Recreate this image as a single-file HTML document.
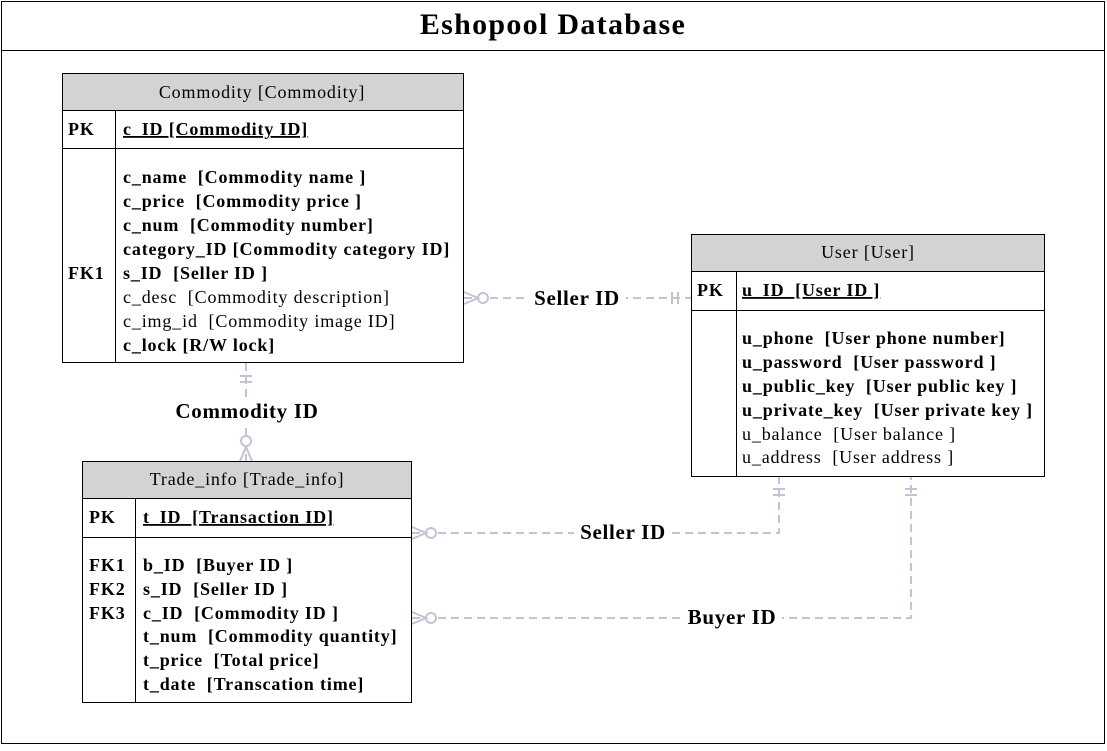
<!DOCTYPE html>
<html><head><style>
body{margin:0;background:#fff}
svg text{font-family:"Liberation Serif",serif;white-space:pre;}
.t{letter-spacing:0.85px}
</style></head><body>
<svg width="1107" height="746" xmlns="http://www.w3.org/2000/svg">
<rect x="1.5" y="1.5" width="1103" height="742" fill="#fff" stroke="#000"/>
<line x1="1" y1="50.5" x2="1105" y2="50.5" stroke="#000"/>
<text x="553" y="34" font-size="30" font-weight="bold" text-anchor="middle" style="letter-spacing:1.3px">Eshopool Database</text>

<g stroke="#c6c2d6" stroke-width="2" fill="none">
 <line x1="464" y1="298" x2="691" y2="298" stroke-dasharray="8,5"/>
 <circle cx="483" cy="298" r="5" fill="#fff"/>
 <path d="M464 292 L478 298 L464 304"/>
 <line x1="672" y1="292" x2="672" y2="304"/><line x1="678" y1="292" x2="678" y2="304"/>
 <line x1="246" y1="363" x2="246" y2="461" stroke-dasharray="8,5"/>
 <line x1="240" y1="376" x2="252" y2="376"/><line x1="240" y1="382" x2="252" y2="382"/>
 <circle cx="246" cy="441" r="5" fill="#fff"/>
 <path d="M240 461 L246 447 L252 461"/>
 <path d="M412 533 L779 533 L779 477" stroke-dasharray="8,5"/>
 <circle cx="431" cy="533" r="5" fill="#fff"/>
 <path d="M412 527 L426 533 L412 539"/>
 <line x1="773" y1="489" x2="785" y2="489"/><line x1="773" y1="495" x2="785" y2="495"/>
 <path d="M412 618 L911 618 L911 477" stroke-dasharray="8,5"/>
 <circle cx="431" cy="618" r="5" fill="#fff"/>
 <path d="M412 612 L426 618 L412 624"/>
 <line x1="905" y1="489" x2="917" y2="489"/><line x1="905" y1="495" x2="917" y2="495"/>
</g>
<g font-size="21" font-weight="bold" text-anchor="middle" style="letter-spacing:0.7px">
 <rect x="528" y="286" width="98" height="24" fill="#fff"/>
 <text x="577" y="305">Seller ID</text>
 <rect x="170" y="400" width="154" height="24" fill="#fff"/>
 <text x="247" y="418">Commodity ID</text>
 <rect x="574" y="521" width="98" height="24" fill="#fff"/>
 <text x="623" y="539">Seller ID</text>
 <rect x="682" y="606" width="100" height="24" fill="#fff"/>
 <text x="732" y="624">Buyer ID</text>
</g>

<g stroke="#000" stroke-width="1">
 <rect x="62.5" y="73.5" width="401" height="37" fill="#d3d3d3"/>
 <rect x="62.5" y="110.5" width="401" height="252" fill="#fff"/>
 <line x1="62" y1="148.5" x2="464" y2="148.5"/>
 <line x1="115.5" y1="110" x2="115.5" y2="363"/>
</g>
<g font-size="18" class="t">
<text x="262" y="98" text-anchor="middle">Commodity [Commodity]</text>
 <text x="68" y="135" font-weight="bold">PK</text>
 <text x="123" y="135" font-weight="bold" text-decoration="underline">c_ID [Commodity ID]</text>
 <text x="68" y="279" font-weight="bold">FK1</text>
 <g font-weight="bold">
 <text x="123" y="183">c_name  [Commodity name ]</text>
 <text x="123" y="207">c_price  [Commodity price ]</text>
 <text x="123" y="231">c_num  [Commodity number]</text>
 <text x="123" y="255">category_ID [Commodity category ID]</text>
 <text x="123" y="279">s_ID  [Seller ID ]</text>
 <text x="123" y="351">c_lock [R/W lock]</text>
 </g>
 <text x="123" y="303">c_desc  [Commodity description]</text>
 <text x="123" y="327">c_img_id  [Commodity image ID]</text>
</g>

<g stroke="#000" stroke-width="1">
 <rect x="691.5" y="234.5" width="353" height="37" fill="#d3d3d3"/>
 <rect x="691.5" y="271.5" width="353" height="205" fill="#fff"/>
 <line x1="691" y1="310.5" x2="1045" y2="310.5"/>
 <line x1="736.5" y1="271" x2="736.5" y2="477"/>
</g>
<g font-size="18" class="t">
<text x="868" y="258" text-anchor="middle">User [User]</text>
 <text x="697" y="296" font-weight="bold">PK</text>
 <text x="742" y="296" font-weight="bold" text-decoration="underline">u_ID  [User ID ]</text>
 <g font-weight="bold">
 <text x="742" y="344">u_phone  [User phone number]</text>
 <text x="742" y="368">u_password  [User password ]</text>
 <text x="742" y="392">u_public_key  [User public key ]</text>
 <text x="742" y="416">u_private_key  [User private key ]</text>
 </g>
 <text x="742" y="440">u_balance  [User balance ]</text>
 <text x="742" y="463">u_address  [User address ]</text>
</g>

<g stroke="#000" stroke-width="1">
 <rect x="82.5" y="461.5" width="329" height="37" fill="#d3d3d3"/>
 <rect x="82.5" y="498.5" width="329" height="204" fill="#fff"/>
 <line x1="82" y1="537.5" x2="412" y2="537.5"/>
 <line x1="135.5" y1="498" x2="135.5" y2="703"/>
</g>
<text x="247" y="485" font-size="18" text-anchor="middle" class="t">Trade_info [Trade_info]</text>
<g font-size="18" font-weight="bold" class="t">
 <text x="89" y="523">PK</text>
 <text x="143" y="523" text-decoration="underline">t_ID  [Transaction ID]</text>
 <text x="89" y="571">FK1</text>
 <text x="89" y="595">FK2</text>
 <text x="89" y="619">FK3</text>
 <text x="143" y="571">b_ID  [Buyer ID ]</text>
 <text x="143" y="595">s_ID  [Seller ID ]</text>
 <text x="143" y="619">c_ID  [Commodity ID ]</text>
 <text x="143" y="642">t_num  [Commodity quantity]</text>
 <text x="143" y="666">t_price  [Total price]</text>
 <text x="143" y="690">t_date  [Transcation time]</text>
</g>
</svg>
</body></html>
